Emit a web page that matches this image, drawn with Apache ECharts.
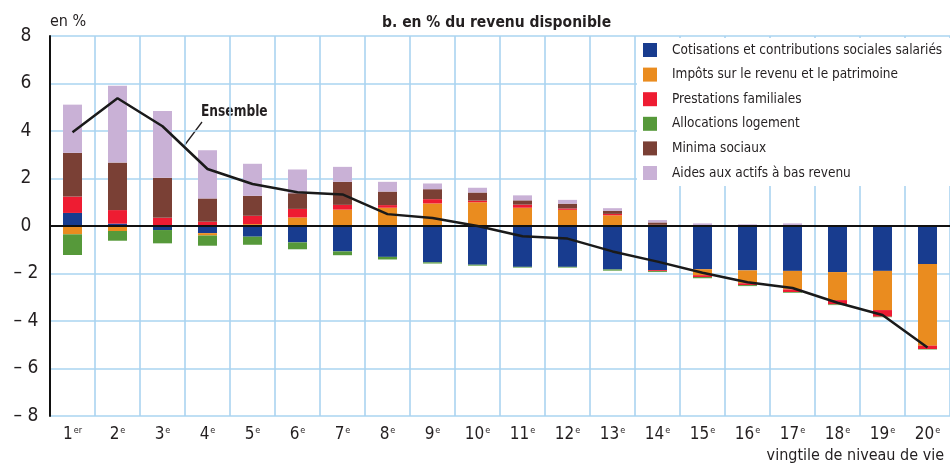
<!DOCTYPE html>
<html>
<head>
<meta charset="utf-8">
<script src="https://cdn.jsdelivr.net/npm/echarts@6/dist/echarts.min.js"></script>
<style>html,body{margin:0;padding:0;background:#fff}#c{width:950px;height:466px}</style>
</head>
<body>
<div id="c"></div>
<script>
var categories = ['1','2','3','4','5','6','7','8','9','10','11','12','13','14','15','16','17','18','19','20'];
var suffixes = ['er','e','e','e','e','e','e','e','e','e','e','e','e','e','e','e','e','e','e','e'];
var cotisations = [0.55, 0.1, -0.17, -0.3, -0.45, -0.69, -1.07, -1.3, -1.53, -1.63, -1.72, -1.72, -1.83, -1.86, -1.82, -1.87, -1.89, -1.94, -1.89, -1.6];
var impots = [-0.35, -0.21, 0, -0.1, 0.08, 0.36, 0.69, 0.77, 0.95, 1.0, 0.77, 0.68, 0.45, 0.05, -0.25, -0.54, -0.78, -1.18, -1.65, -3.44];
var prestations = [0.69, 0.57, 0.35, 0.18, 0.35, 0.36, 0.2, 0.11, 0.18, 0.07, 0.13, 0.06, 0.06, -0.04, -0.08, -0.08, -0.11, -0.18, -0.28, -0.14];
var logement = [-0.87, -0.41, -0.56, -0.43, -0.34, -0.29, -0.16, -0.11, -0.05, -0.04, -0.03, -0.03, -0.05, -0.04, -0.05, -0.04, -0.03, -0.03, -0.02, -0.02];
var minima = [1.84, 2.0, 1.68, 0.98, 0.84, 0.66, 0.97, 0.57, 0.42, 0.34, 0.18, 0.2, 0.13, 0.1, 0.03, 0.02, 0.04, 0.03, 0, 0];
var aides = [2.03, 3.23, 2.81, 2.03, 1.35, 1.0, 0.63, 0.41, 0.24, 0.2, 0.21, 0.16, 0.11, 0.1, 0.08, 0.05, 0.07, 0.01, 0, 0];
var ensemble = [3.95, 5.38, 4.2, 2.4, 1.77, 1.42, 1.33, 0.5, 0.34, 0.0, -0.43, -0.53, -1.07, -1.5, -1.97, -2.37, -2.61, -3.23, -3.75, -5.12];
var yTicks = [-8, -6, -4, -2, 0, 2, 4, 6, 8];
var names = ['Cotisations et contributions sociales salariés','Impôts sur le revenu et le patrimoine','Prestations familiales','Allocations logement','Minima sociaux','Aides aux actifs à bas revenu'];
var colors = ['#183c8f','#ea8c1f','#ee1c32','#56993a','#7a4035','#c9b1d6'];

var FONT = "'DejaVu Sans Condensed','Liberation Sans Narrow','Roboto',sans-serif";
var TXT = '#231f20';
var chart = echarts.init(document.getElementById('c'), null, {renderer:'canvas'});
var seriesData = [cotisations, impots, prestations, logement, minima, aides];
var series = seriesData.map(function(d, i){
  return {name:names[i], type:'bar', stack:'s', data:d, barWidth:19,
    itemStyle:{color:colors[i]}, emphasis:{disabled:true}};
});
series.push({name:'Ensemble', type:'line', data:ensemble, showSymbol:false, symbol:'none',
  lineStyle:{color:'#1a1a1a', width:2.5}, z:5, emphasis:{disabled:true},
  markLine:{silent:true, symbol:['none','none'], label:{show:false},
    lineStyle:{color:'#111', width:2, type:'solid'}, data:[{yAxis:0}]}});

chart.setOption({
  animation:false,
  textStyle:{fontFamily:FONT},
  title:{text:'b. en % du revenu disponible', left:377, top:10,
    textStyle:{fontFamily:FONT, fontSize:15.5, fontWeight:'bold', color:TXT}},
  legend:{data:names, orient:'vertical', left:637, top:38, itemWidth:14, itemHeight:14, itemGap:10.6,
    icon:'rect', backgroundColor:'#fff', padding:[5,8,6,6], selectedMode:false,
    textStyle:{fontFamily:FONT, fontSize:13.5, color:TXT, lineHeight:14, padding:[0,0,0,10]}},
  grid:{left:50, top:36, width:906, height:380},
  xAxis:{type:'category', data:categories, position:'bottom',
    axisLine:{show:false, onZero:false}, axisTick:{show:false},
    splitLine:{show:true, lineStyle:{color:'#aad4f0', width:1.6}},
    axisLabel:{margin:10, interval:0,
      formatter:function(v, i){return '{n|'+v+'}{s|'+suffixes[i]+'}';},
      rich:{n:{fontFamily:FONT, fontSize:17, color:TXT}, s:{fontFamily:FONT, fontSize:9, color:TXT, verticalAlign:'top', padding:[0,0,8,1]}}}},
  yAxis:{type:'value', min:yTicks[0], max:yTicks[yTicks.length-1], interval:2,
    axisLine:{show:true, lineStyle:{color:'#111', width:2}}, axisTick:{show:false},
    splitLine:{show:true, lineStyle:{color:'#aad4f0', width:1.6}},
    axisLabel:{align:'center', margin:24, fontFamily:FONT, fontSize:19, color:TXT,
      formatter:function(v){return v<0 ? '\u2013 '+(-v) : String(v);}}},
  graphic:[
    {type:'text', left:50, top:14, style:{text:'en %', font:'16px '+FONT, fill:TXT}},
    {type:'text', right:6, top:448, style:{text:'vingtile de niveau de vie', font:'16px '+FONT, fill:TXT}},
    {type:'text', x:201, y:104, scaleX:0.85, style:{text:'Ensemble', font:'bold 16px '+FONT, fill:TXT}},
    {type:'line', shape:{x1:202, y1:122, x2:184, y2:146}, style:{stroke:TXT, lineWidth:1.3}}
  ],
  series:series
});
</script>
</body>
</html>
